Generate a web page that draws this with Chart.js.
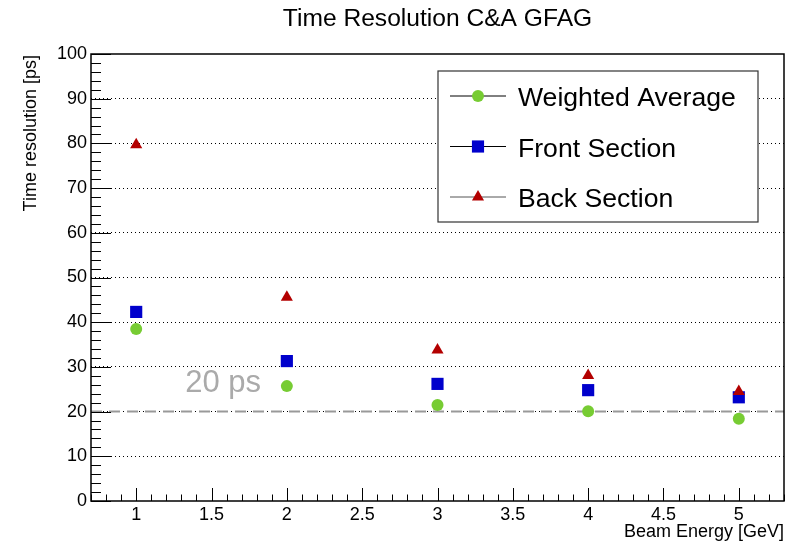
<!DOCTYPE html>
<html>
<head>
<meta charset="utf-8">
<script src="https://cdn.jsdelivr.net/npm/chart.js@4/dist/chart.umd.min.js"></script>
<style>
  html, body { margin: 0; padding: 0; background: #fff; }
  #wrap { width: 794px; height: 542px; }
</style>
</head>
<body>
<div id="wrap"><canvas id="timeChart" width="794" height="542"></canvas></div>
<script>
// values
const energies = [1, 2, 3, 4, 5];
const weightedAvg = [38.5, 25.7, 21.5, 20.1, 18.4];
const frontSection = [42.3, 31.3, 26.2, 24.8, 23.2];
const backSection = [79.7, 45.6, 33.8, 28.1, 24.5];
const seriesNames = ['Weighted Average', 'Front Section', 'Back Section'];
const xTicks = [1, 1.5, 2, 2.5, 3, 3.5, 4, 4.5, 5];
const yTicks = [0, 10, 20, 30, 40, 50, 60, 70, 80, 90, 100];
const refLevel = 20;
const refLabel = '20 ps';

const FONT = "'Liberation Sans', Arial, Helvetica, sans-serif";

const styles = [
    { color: '#77cc33', pointStyle: 'circle', radius: 6, legendLine: '#000' },
    { color: '#0000cc', pointStyle: 'rect', radius: 8.6, legendLine: '#000' },
    { color: '#b30000', pointStyle: 'triangle', radius: 7, legendLine: '#555' }
];

function toPoints(ys) {
    return energies.map((e, i) => ({ x: e, y: ys[i] }));
}

const rootFrame = {
    id: 'rootFrame',
    beforeDatasetsDraw(chart) {
        const { ctx, chartArea: a, scales } = chart;
        const y = scales.y.getPixelForValue(refLevel);
        ctx.save();
        ctx.strokeStyle = '#999';
        ctx.lineWidth = 2;
        ctx.setLineDash([11, 7]);
        ctx.beginPath();
        ctx.moveTo(a.left, y);
        ctx.lineTo(a.right, y);
        ctx.stroke();
        ctx.setLineDash([]);
        ctx.fillStyle = '#aaa';
        ctx.font = '31px ' + FONT;
        ctx.textAlign = 'left';
        ctx.textBaseline = 'alphabetic';
        ctx.fillText(refLabel, scales.x.getPixelForValue(1.325), y - 19.5);
        ctx.restore();
    },
    afterDraw(chart) {
        const { ctx, chartArea: a, scales } = chart;
        const xs = scales.x, ys = scales.y;
        ctx.save();

        // inner ticks
        ctx.strokeStyle = '#000';
        ctx.lineWidth = 1;
        ctx.beginPath();
        for (let k = 7; k <= 53; k++) {
            const px = Math.round(xs.getPixelForValue(k / 10)) + 0.5;
            const len = k % 5 === 0 ? 13 : 6.5;
            ctx.moveTo(px, a.bottom);
            ctx.lineTo(px, a.bottom - len);
        }
        for (let v = 0; v <= 100; v += 2) {
            const py = Math.round(ys.getPixelForValue(v)) + 0.5;
            const len = v % 10 === 0 ? 20 : 10;
            ctx.moveTo(a.left, py);
            ctx.lineTo(a.left + len, py);
        }
        ctx.stroke();

        // frame
        ctx.lineWidth = 1.5;
        ctx.strokeRect(a.left, a.top, a.right - a.left, a.bottom - a.top);

        // titles
        ctx.fillStyle = '#000';
        ctx.font = '24.6px ' + FONT;
        ctx.textAlign = 'center';
        ctx.textBaseline = 'alphabetic';
        ctx.fillText('Time Resolution C&A GFAG', (a.left + a.right) / 2, 26);

        ctx.font = '18px ' + FONT;
        ctx.textAlign = 'right';
        ctx.fillText('Beam Energy [GeV]', a.right, 537);

        ctx.save();
        ctx.translate(36, a.top + 1);
        ctx.rotate(-Math.PI / 2);
        ctx.textAlign = 'right';
        ctx.fillText('Time resolution [ps]', 0, 0);
        ctx.restore();

        // legend box
        const box = { x: 438, y: 71, w: 320, h: 151 };
        ctx.fillStyle = '#fff';
        ctx.fillRect(box.x, box.y, box.w, box.h);
        ctx.strokeStyle = '#333';
        ctx.lineWidth = 1.2;
        ctx.strokeRect(box.x, box.y, box.w, box.h);

        seriesNames.forEach((name, i) => {
            const s = styles[i];
            const ry = box.y + 25 + i * 50.5;
            ctx.strokeStyle = s.legendLine;
            ctx.lineWidth = 1;
            ctx.beginPath();
            ctx.moveTo(450, ry);
            ctx.lineTo(506, ry);
            ctx.stroke();
            ctx.fillStyle = s.color;
            ctx.strokeStyle = s.color;
            Chart.helpers.drawPoint(ctx, {
                pointStyle: s.pointStyle, radius: s.radius, rotation: 0, borderWidth: 0
            }, 478, ry);
            ctx.fillStyle = '#000';
            ctx.font = '26.6px ' + FONT;
            ctx.textAlign = 'left';
            ctx.textBaseline = 'alphabetic';
            ctx.fillText(name, 518, ry + 10);
        });
        ctx.restore();
    }
};

const series = [weightedAvg, frontSection, backSection];

new Chart(document.getElementById('timeChart'), {
    type: 'scatter',
    data: {
        datasets: series.map((ys, i) => ({
            label: seriesNames[i],
            data: toPoints(ys),
            pointStyle: styles[i].pointStyle,
            pointRadius: styles[i].radius,
            pointHoverRadius: styles[i].radius,
            backgroundColor: styles[i].color,
            borderColor: styles[i].color,
            borderWidth: 0,
            showLine: false,
            order: 2 - i
        }))
    },
    options: {
        responsive: false,
        animation: false,
        devicePixelRatio: 1,
        layout: { padding: { top: 54, right: 10, left: 0, bottom: 0 } },
        plugins: {
            legend: { display: false },
            title: { display: false },
            tooltip: { enabled: false }
        },
        scales: {
            x: {
                type: 'linear',
                min: 0.7,
                max: 5.3,
                afterBuildTicks: s => { s.ticks = xTicks.map(v => ({ value: v })); },
                afterFit: s => { s.height = 41; },
                grid: { display: false, drawTicks: false },
                border: { display: false },
                ticks: {
                    color: '#000',
                    padding: 3,
                    maxRotation: 0,
                    font: { family: FONT, size: 18 },
                    callback: v => String(v)
                }
            },
            y: {
                min: 0,
                max: 100,
                afterBuildTicks: s => { s.ticks = yTicks.map(v => ({ value: v })); },
                afterFit: s => { s.width = 91; },
                grid: {
                    drawTicks: false,
                    lineWidth: 1,
                    color: c => (c.tick && c.tick.value > 0 && c.tick.value < 100) ? '#000' : 'rgba(0,0,0,0)',
                    borderDash: [1, 3]
                },
                border: { display: false, dash: [1, 3] },
                ticks: {
                    color: '#000',
                    padding: 4,
                    font: { family: FONT, size: 18 }
                }
            }
        }
    },
    plugins: [rootFrame]
});
</script>
</body>
</html>
